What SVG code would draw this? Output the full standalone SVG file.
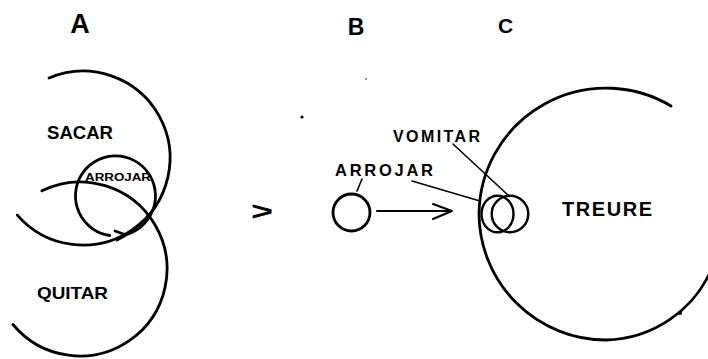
<svg xmlns="http://www.w3.org/2000/svg" width="708" height="359" viewBox="0 0 708 359">
<style>
.ln{fill:none;stroke:#000;stroke-linecap:round;stroke-linejoin:round}
.c{stroke-width:2.8}
.t{stroke-width:1.6}
.lbl{font-family:"Liberation Sans",Arial,sans-serif;font-weight:bold;fill:#000}
</style>
<rect width="708" height="359" fill="#fff"/>
<g id="panel-labels">
<text class="lbl" x="80" y="33" font-size="27" text-anchor="middle">A</text>
<text class="lbl" x="356" y="35" font-size="23" text-anchor="middle">B</text>
<text class="lbl" x="505.5" y="33" font-size="21" text-anchor="middle">C</text>
</g>
<g id="sacar">
<path class="ln c" d="M49,78 A87,87 0 1 1 17.3,215.1"/>
<text class="lbl" x="47" y="139" font-size="19" textLength="66" lengthAdjust="spacingAndGlyphs">SACAR</text>
</g>
<g id="quitar">
<path class="ln c" d="M41.9,190.8 A87,87 0 1 1 13,324.5"/>
<text class="lbl" x="37" y="299" font-size="17" textLength="71" lengthAdjust="spacingAndGlyphs">QUITAR</text>
</g>
<g id="arrojar-a">
<path class="ln c" d="M124,235 A40,40 0 1 0 109.7,235.5"/>
<path class="ln c" d="M115,231 L126,235 L117,240"/>
<text class="lbl" x="85" y="181" font-size="11" textLength="66" lengthAdjust="spacingAndGlyphs">ARROJAR</text>
</g>
<g id="relation">
<text x="251" y="220" font-family="Liberation Sans, Arial, sans-serif" font-weight="bold" font-size="26" textLength="22" lengthAdjust="spacingAndGlyphs">&gt;</text>
</g>
<g id="arrojar-b">
<circle class="ln c" cx="351.5" cy="212.5" r="18.5"/>
<text class="lbl" x="335" y="176" font-size="16.5" textLength="98" lengthAdjust="spacing">ARROJAR</text>
</g>
<g id="treure">
<path class="ln c" d="M671,106 A127,127 0 0 0 479,213 A127,127 0 0 0 606,340 A118,118 0 0 0 712,268"/>
<circle cx="680" cy="313" r="2"/>
<text class="lbl" x="562" y="216" font-size="20" textLength="90" lengthAdjust="spacing">TREURE</text>
</g>
<g id="arrojar-c">
<ellipse class="ln" stroke-width="2.4" cx="497.5" cy="214" rx="16" ry="18.3"/>
</g>
<g id="vomitar">
<ellipse class="ln" stroke-width="2.4" cx="510" cy="214" rx="18.3" ry="18.3"/>
<text class="lbl" x="393" y="142" font-size="16" textLength="87" lengthAdjust="spacing">VOMITAR</text>
</g>
<g id="connectors">
<path class="ln t" d="M362,179 L357,191"/>
<path class="ln" stroke-width="2" d="M377,211 L452,211 M433,204 L452,211 L433,219"/>
<path class="ln t" d="M412,181 L480,201"/>
<path class="ln t" d="M453,144 L509,196"/>
</g>
<g id="specks">
<circle cx="302" cy="117" r="1.6"/>
<circle cx="366" cy="79" r="0.8"/>
</g>
</svg>
